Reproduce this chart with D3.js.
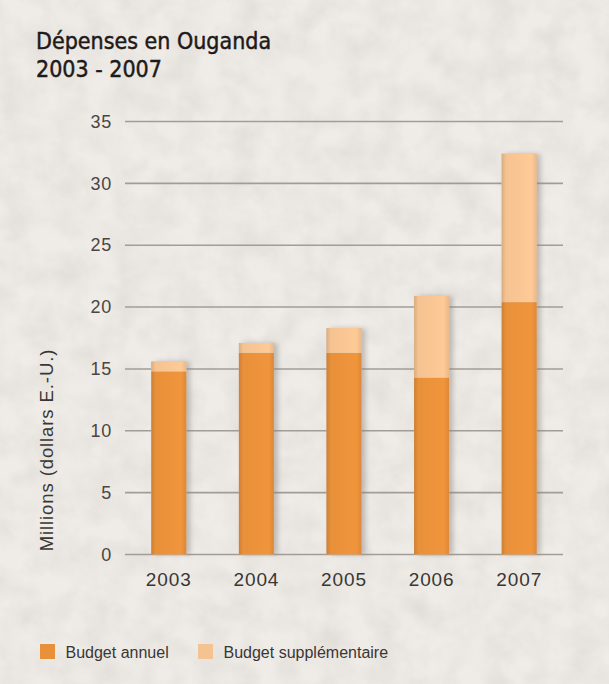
<!DOCTYPE html>
<html><head><meta charset="utf-8">
<script src="https://cdn.jsdelivr.net/npm/d3@7"></script>
<style>html,body{margin:0;padding:0;background:#fff;}svg{display:block;}</style>
</head><body>
<script>
const years = ["2003","2004","2005","2006","2007"];
const annuel = [14.8, 16.3, 16.3, 14.3, 20.4];
const supplementaire = [0.8, 0.8, 2.0, 6.6, 12.0];
const yTicks = [0,5,10,15,20,25,30,35];
const seriesNames = ["Budget annuel","Budget supplémentaire"];
const colors = ["#e8903a","#f5c391"];

const W=609,H=684;
const svg=d3.select("body").append("svg").attr("width",W).attr("height",H);
const defs=svg.append("defs");
const f=defs.append("filter").attr("id","paper").attr("x",0).attr("y",0).attr("width","100%").attr("height","100%");
f.append("feTurbulence").attr("type","fractalNoise").attr("baseFrequency","0.035").attr("numOctaves",4).attr("seed",3).attr("result","n");
f.append("feColorMatrix").attr("in","n").attr("type","matrix")
 .attr("values","0 0 0 0 0.6  0 0 0 0 0.58  0 0 0 0 0.55  0.35 0.35 0.35 0 -0.4").attr("result","c");
f.append("feComposite").attr("in","c").attr("in2","SourceGraphic").attr("operator","over");
const sh=defs.append("filter").attr("id","shadow").attr("x","-20%").attr("y","-5%").attr("width","150%").attr("height","110%");
sh.append("feDropShadow").attr("dx",4).attr("dy",0).attr("stdDeviation",2.5).attr("flood-color","#8a8078").attr("flood-opacity",0.45);
colors.forEach((c,i)=>{
  const g=defs.append("linearGradient").attr("id","g"+i).attr("x1",0).attr("x2",1).attr("y1",0).attr("y2",0);
  const base=d3.color(c);
  g.append("stop").attr("offset","0").attr("stop-color",base.darker(0.35));
  g.append("stop").attr("offset","0.12").attr("stop-color",base);
  g.append("stop").attr("offset","0.85").attr("stop-color",base.brighter(0.1));
  g.append("stop").attr("offset","1").attr("stop-color",base.darker(0.15));
});

svg.append("rect").attr("width",W).attr("height",H).attr("fill","#efece8").attr("filter","url(#paper)");

const title=svg.append("g").attr("font-family","DejaVu Sans Condensed, DejaVu Sans").attr("font-size",23).attr("fill","#1e1a18")
  .attr("stroke","#1e1a18").attr("stroke-width",0.45);
title.append("text").attr("x",36).attr("y",48.5).text("Dépenses en Ouganda");
title.append("text").attr("x",36).attr("y",77).text("2003 - 2007");

const x=d3.scaleBand().domain(years).range([125,563]).paddingInner(0.6).paddingOuter(0.3);
const y=d3.scaleLinear().domain([0,35]).range([554.5,121.5]);

const grid=svg.append("g");
grid.selectAll("line").data(yTicks).join("line")
  .attr("x1",125).attr("x2",563).attr("y1",d=>y(d)).attr("y2",d=>y(d))
  .attr("stroke","#a39c96").attr("stroke-width",1.6);

const yAxis=svg.append("g").attr("transform","translate(125,0)")
  .call(d3.axisLeft(y).tickValues(yTicks).tickSize(0).tickPadding(13));
yAxis.select(".domain").remove();
yAxis.selectAll("text").attr("font-family","Liberation Sans").attr("font-size",18).attr("letter-spacing",0.8).attr("fill","#4a4542");

const xAxis=svg.append("g").attr("transform","translate(0,554.5)")
  .call(d3.axisBottom(x).tickSize(0).tickPadding(18));
xAxis.select(".domain").remove();
xAxis.selectAll("text").attr("font-family","Liberation Sans").attr("font-size",19).attr("letter-spacing",0.9).attr("fill","#3a3634");

svg.append("text").attr("transform","translate(53,450) rotate(-90)").attr("text-anchor","middle")
  .attr("font-family","Liberation Sans").attr("font-size",18.5).attr("letter-spacing",0.9).attr("fill","#3a3634").text("Millions (dollars E.-U.)");

const stackData=years.map((yr,i)=>({year:yr,annuel:annuel[i],supp:supplementaire[i]}));
const stack=d3.stack().keys(["annuel","supp"])(stackData);
const bars=svg.append("g");
bars.selectAll("rect.sh").data(stackData).join("rect").attr("class","sh")
  .attr("x",d=>x(d.year)).attr("width",x.bandwidth())
  .attr("y",d=>y(d.annuel+d.supp)).attr("height",d=>y(0)-y(d.annuel+d.supp))
  .attr("fill","#cfc8c0").attr("filter","url(#shadow)");
stack.forEach((s,i)=>{
  bars.append("g").selectAll("rect").data(s).join("rect")
    .attr("x",d=>x(d.data.year)).attr("width",x.bandwidth())
    .attr("y",d=>y(d[1])).attr("height",d=>y(d[0])-y(d[1]))
    .attr("fill","url(#g"+i+")");
});

const leg=svg.append("g");
const legX=[40,198];
seriesNames.forEach((n,i)=>{
  leg.append("rect").attr("x",legX[i]).attr("y",644).attr("width",15).attr("height",15).attr("fill",colors[i]);
  leg.append("text").attr("x",legX[i]+25.5).attr("y",658).attr("font-family","Liberation Sans").attr("font-size",16).attr("fill","#3a3634").text(n);
});
</script>
</body></html>
